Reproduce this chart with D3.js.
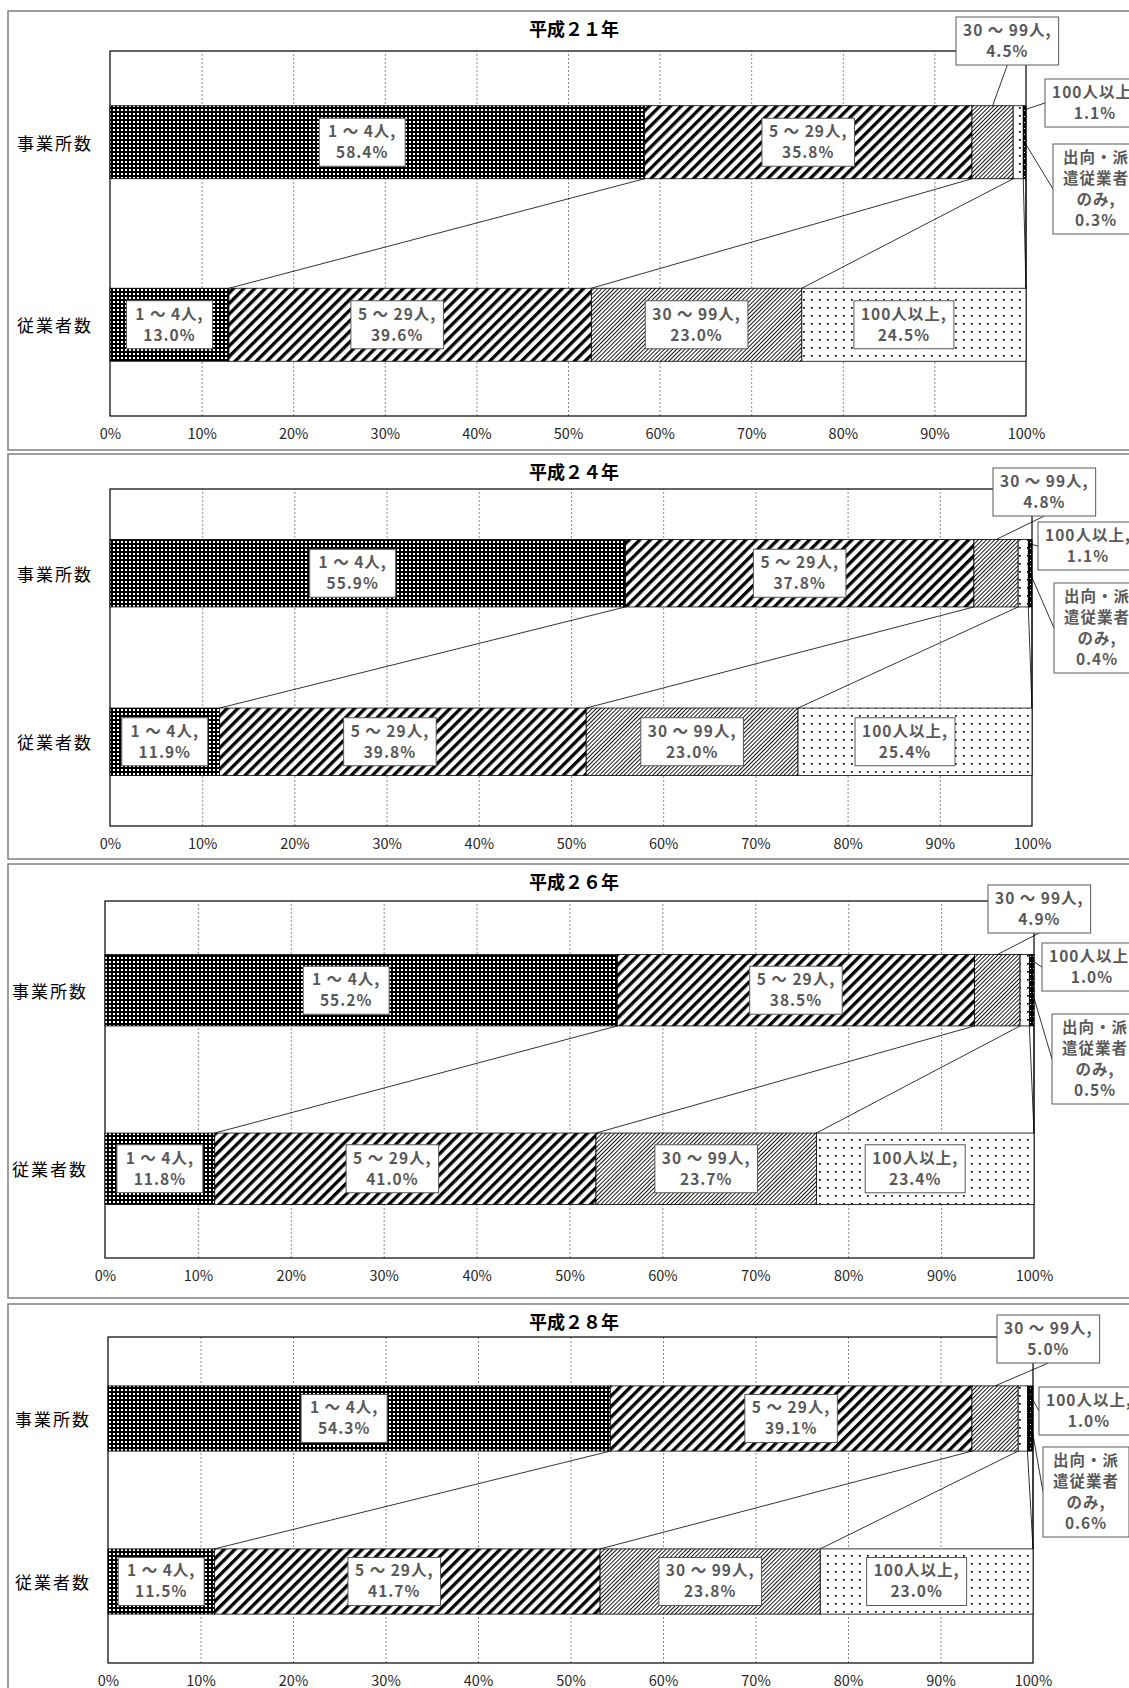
<!DOCTYPE html>
<html>
<head>
<meta charset="utf-8">
<script src="https://cdn.jsdelivr.net/npm/d3@7"></script>
<style>
    body { margin: 0; background: #fff; }
    svg { display: block; }
    text { font-family: "Noto Sans CJK JP", "Noto Sans", sans-serif; }
</style>
</head>
<body>
<svg id="size-class-chart"></svg>
<script>
const YEARS = ["平成２１年", "平成２４年", "平成２６年", "平成２８年"];
const BARS = ["事業所数", "従業者数"];
const SIZE_CLASSES = ["1 ～ 4人", "5 ～ 29人", "30 ～ 99人", "100人以上", "出向・派遣従業者のみ"];
const SIZE_CLASS_LINES = [["1 ～ 4人,"], ["5 ～ 29人,"], ["30 ～ 99人,"], ["100人以上,"], ["出向・派", "遣従業者", "のみ,"]];

// share (%) per size class, one row per year
const ESTABLISHMENTS = [
    [58.4, 35.8, 4.5, 1.1, 0.3],
    [55.9, 37.8, 4.8, 1.1, 0.4],
    [55.2, 38.5, 4.9, 1.0, 0.5],
    [54.3, 39.1, 5.0, 1.0, 0.6]
];
const EMPLOYEES = [
    [13.0, 39.6, 23.0, 24.5, 0],
    [11.9, 39.8, 23.0, 25.4, 0],
    [11.8, 41.0, 23.7, 23.4, 0],
    [11.5, 41.7, 23.8, 23.0, 0]
];

const TICK_VALUES = [0, 0.1, 0.2, 0.3, 0.4, 0.5, 0.6, 0.7, 0.8, 0.9, 1.0];

// layout of the four stacked panels
const PANEL_LAYOUT = [
    { top: 11, bottom: 450, left: 110, right: 1026, plotTop: 51, plotBottom: 416 },
    { top: 454, bottom: 859, left: 110, right: 1032, plotTop: 489, plotBottom: 826 },
    { top: 864, bottom: 1298, left: 105, right: 1034, plotTop: 901, plotBottom: 1258 },
    { top: 1304, bottom: 1720, left: 108, right: 1033, plotTop: 1337, plotBottom: 1663 }
];

// top-left corners of the callout labels for the small segments (30~99, 100+, 出向)
const CALLOUT_POS = [
    [{ x: 956, y: 17 }, { x: 1045, y: 79 }, { x: 1053, y: 144 }],
    [{ x: 993, y: 468 }, { x: 1038, y: 522 }, { x: 1054, y: 583 }],
    [{ x: 988, y: 885 }, { x: 1042, y: 943 }, { x: 1052, y: 1014 }],
    [{ x: 997, y: 1315 }, { x: 1039, y: 1387 }, { x: 1043, y: 1447 }]
];

// horizontal nudges of the in-bar labels (manual placement in the original)
const INNER_NUDGE = [[-15, 0], [0, -13, 0, -10]];

const CHART_WIDTH = 1129;
const CHART_HEIGHT = 1688;
const LABEL_FONT = 15.5;
const LABEL_LINE = 21;
const LABEL_COLOR = "#595959";

const svg = d3.select("#size-class-chart")
    .attr("width", CHART_WIDTH)
    .attr("height", CHART_HEIGHT);

svg.append("rect")
    .attr("width", CHART_WIDTH)
    .attr("height", CHART_HEIGHT)
    .attr("fill", "#fff");

createPatterns(svg.append("defs"));

YEARS.forEach((year, i) => renderPanel(i));

function createPatterns(defs) {
    // 1~4: black with white dots
    let p0 = defs.append("pattern").attr("id", "pat0")
        .attr("patternUnits", "userSpaceOnUse").attr("width", 4).attr("height", 4);
    p0.append("rect").attr("width", 4).attr("height", 4).attr("fill", "#000");
    p0.append("rect").attr("x", 1).attr("y", 1).attr("width", 2).attr("height", 2).attr("fill", "#fff");

    // 5~29: wide diagonal stripes
    let p1 = defs.append("pattern").attr("id", "pat1")
        .attr("patternUnits", "userSpaceOnUse").attr("width", 7.5).attr("height", 7.5)
        .attr("patternTransform", "rotate(45)");
    p1.append("rect").attr("width", 7.5).attr("height", 7.5).attr("fill", "#fff");
    p1.append("rect").attr("width", 3.3).attr("height", 7.5).attr("fill", "#000");

    // 30~99: thin diagonal lines
    let p2 = defs.append("pattern").attr("id", "pat2")
        .attr("patternUnits", "userSpaceOnUse").attr("width", 2.9).attr("height", 2.9)
        .attr("patternTransform", "rotate(45)");
    p2.append("rect").attr("width", 2.9).attr("height", 2.9).attr("fill", "#fff");
    p2.append("rect").attr("width", 0.9).attr("height", 2.9).attr("fill", "#000");

    // 100+: sparse dots
    let p3 = defs.append("pattern").attr("id", "pat3")
        .attr("patternUnits", "userSpaceOnUse").attr("width", 8).attr("height", 8);
    p3.append("rect").attr("width", 8).attr("height", 8).attr("fill", "#fff");
    p3.append("rect").attr("x", 3).attr("y", 3).attr("width", 1.7).attr("height", 1.7).attr("fill", "#000");

    // 出向・派遣: nearly black
    let p4 = defs.append("pattern").attr("id", "pat4")
        .attr("patternUnits", "userSpaceOnUse").attr("width", 3).attr("height", 6);
    p4.append("rect").attr("width", 3).attr("height", 6).attr("fill", "#000");
    p4.append("rect").attr("x", 1).attr("y", 2).attr("width", 1).attr("height", 1).attr("fill", "#fff");
}

function renderPanel(i) {
    const L = PANEL_LAYOUT[i];
    const panel = svg.append("g").classed("panel", true);

    panel.append("rect")
        .attr("x", 8)
        .attr("y", L.top)
        .attr("width", 1160)
        .attr("height", L.bottom - L.top)
        .attr("fill", "#fff")
        .attr("stroke", "#7f7f7f")
        .attr("stroke-width", 1.5);

    panel.append("text")
        .attr("x", 574)
        .attr("y", L.top + 17)
        .attr("dominant-baseline", "central")
        .style("text-anchor", "middle")
        .style("font-size", "18px")
        .style("font-weight", "bold")
        .text(YEARS[i]);

    let xScale = d3.scaleLinear()
        .domain([0, 1])
        .range([L.left, L.right]);

    let yScale = d3.scaleBand()
        .domain(BARS)
        .range([L.plotTop, L.plotBottom])
        .paddingInner(0.6)
        .paddingOuter(0.3);

    const plotHeight = L.plotBottom - L.plotTop;

    // gridlines
    let grid = d3.axisBottom(xScale)
        .tickValues(TICK_VALUES.slice(1, -1))
        .tickSize(-plotHeight)
        .tickFormat("");
    panel.append("g")
        .attr("transform", `translate(0, ${L.plotBottom})`)
        .call(grid)
        .call(g => g.select(".domain").remove())
        .call(g => g.selectAll("line")
            .attr("stroke", "#8c8c8c")
            .attr("stroke-dasharray", "2,2"));

    // tick labels
    let xAxis = d3.axisBottom(xScale)
        .tickValues(TICK_VALUES)
        .tickSize(0)
        .tickPadding(13)
        .tickFormat(d3.format(".0%"));
    panel.append("g")
        .attr("transform", `translate(0, ${L.plotBottom})`)
        .call(xAxis)
        .call(g => g.select(".domain").remove())
        .call(g => g.selectAll("text")
            .style("font-size", "14.5px")
            .style("font-family", "\"Noto Sans CJK JP\", sans-serif")
            .attr("fill", "#262626"));

    // plot area border
    panel.append("rect")
        .attr("x", L.left)
        .attr("y", L.plotTop)
        .attr("width", L.right - L.left)
        .attr("height", plotHeight)
        .attr("fill", "none")
        .attr("stroke", "#000")
        .attr("stroke-width", 1.2);

    // category labels
    panel.selectAll(".category-label")
        .data(BARS)
        .enter()
        .append("text")
            .classed("category-label", true)
            .attr("x", L.left - 93)
            .attr("y", d => yScale(d) + yScale.bandwidth() / 2)
            .attr("dominant-baseline", "central")
            .style("font-size", "17px")
            .style("letter-spacing", "2px")
            .text(d => d);

    const rows = BARS.map((bar, j) => {
        const values = j === 0 ? ESTABLISHMENTS[i] : EMPLOYEES[i];
        const row = { bar: bar };
        SIZE_CLASSES.forEach((c, k) => row[c] = values[k]);
        return row;
    });

    const series = d3.stack()
        .keys(SIZE_CLASSES)
        .offset(d3.stackOffsetExpand)(rows);

    const bw = yScale.bandwidth();

    // series lines between the two bars
    panel.selectAll(".series-line")
        .data(series)
        .enter()
        .append("line")
            .classed("series-line", true)
            .attr("x1", s => xScale(s[0][1]))
            .attr("y1", yScale(BARS[0]) + bw)
            .attr("x2", s => xScale(s[1][1]))
            .attr("y2", yScale(BARS[1]))
            .attr("stroke", "#000")
            .attr("stroke-width", 0.8);

    // stacked segments
    panel.selectAll(".segment-group")
        .data(series)
        .enter()
        .append("g")
            .classed("segment-group", true)
            .attr("fill", (s, k) => `url(#pat${k})`)
        .selectAll("rect")
        .data(s => s.filter(d => d[1] > d[0]))
        .enter()
        .append("rect")
            .attr("x", d => xScale(d[0]))
            .attr("y", d => yScale(d.data.bar))
            .attr("width", d => xScale(d[1]) - xScale(d[0]))
            .attr("height", bw)
            .attr("stroke", "#000")
            .attr("stroke-width", 0.8);

    // labels inside the bars
    series.forEach((s, k) => {
        s.forEach((d, j) => {
            const value = rows[j][SIZE_CLASSES[k]];
            if (value <= 0) return;
            if (j === 0 && k > 1) return;
            const cx = (xScale(d[0]) + xScale(d[1])) / 2 + INNER_NUDGE[j][k];
            const cy = yScale(d.data.bar) + bw / 2;
            const box = drawLabel(panel, labelLines(k, value));
            box.g.attr("transform", `translate(${cx - box.width / 2}, ${cy - box.height / 2})`);
        });
    });

    // callouts for the thin segments of the top bar
    [2, 3, 4].forEach((k, c) => {
        const d = series[k][0];
        const value = rows[0][SIZE_CLASSES[k]];
        const pos = CALLOUT_POS[i][c];
        const box = drawLabel(svg, labelLines(k, value));
        const barTop = yScale(BARS[0]);
        let from, to;
        if (c === 0) {
            from = [pos.x + box.width / 2, pos.y + box.height];
            to = [(xScale(d[0]) + xScale(d[1])) / 2, barTop];
        } else if (c === 1) {
            from = [pos.x, pos.y + box.height / 2];
            to = [xScale(d[1]), barTop + bw * 0.06];
        } else {
            from = [pos.x, pos.y + box.height / 2];
            to = [(xScale(d[0]) + xScale(d[1])) / 2, barTop + bw / 2];
        }
        svg.append("line")
            .attr("x1", from[0]).attr("y1", from[1])
            .attr("x2", to[0]).attr("y2", to[1])
            .attr("stroke", "#000")
            .attr("stroke-width", 0.8);
        box.g.raise().attr("transform", `translate(${pos.x}, ${pos.y})`);
    });
}

function labelLines(k, value) {
    return SIZE_CLASS_LINES[k].concat([d3.format(".1f")(value) + "%"]);
}

function drawLabel(parent, lines) {
    const g = parent.append("g").classed("data-label", true);
    const rect = g.append("rect")
        .attr("fill", "#fff")
        .attr("stroke", "#595959")
        .attr("stroke-width", 1);
    const text = g.append("text")
        .style("font-size", LABEL_FONT + "px")
        .style("font-weight", "bold")
        .style("letter-spacing", "1px")
        .attr("fill", LABEL_COLOR)
        .style("text-anchor", "middle");
    text.selectAll("tspan")
        .data(lines)
        .enter()
        .append("tspan")
            .attr("x", 0)
            .attr("y", (line, n) => n * LABEL_LINE)
            .text(line => line);
    const bbox = text.node().getBBox();
    const width = Math.max(bbox.width + 14, 86);
    const height = lines.length * LABEL_LINE + 6;
    text.attr("transform", `translate(${width / 2}, ${3 + LABEL_LINE * 0.75})`);
    rect.attr("width", width).attr("height", height);
    return { g: g, width: width, height: height };
}
</script>
</body>
</html>
